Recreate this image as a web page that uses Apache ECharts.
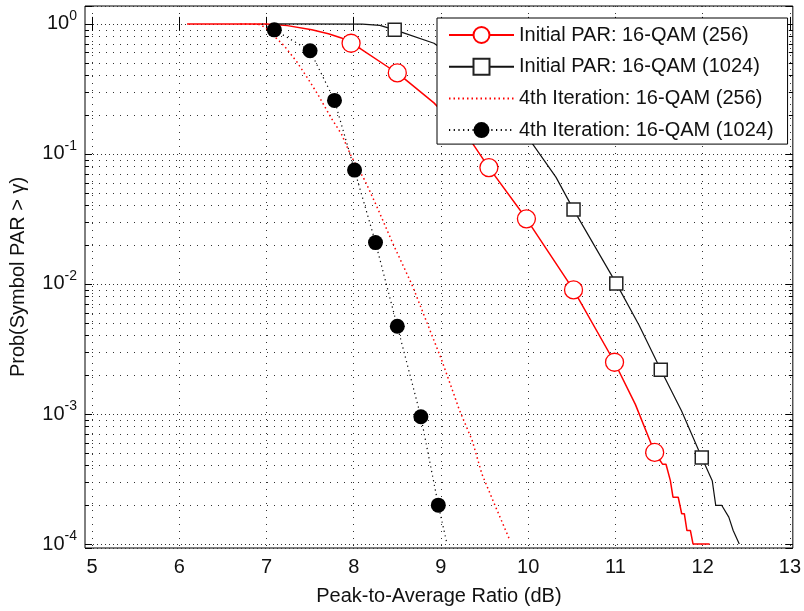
<!DOCTYPE html>
<html>
<head>
<meta charset="utf-8">
<script src="https://cdn.jsdelivr.net/npm/echarts@6/dist/echarts.min.js"></script>
<style>
  html, body { margin: 0; padding: 0; background: #fff; }
  #chart { width: 804px; height: 611px; }
</style>
</head>
<body>
<div id="chart"></div>
<script>
// axis ranges (box is a bit wider than the ticks)
const xMin = 4.92, xMax = 13.034;
const yMin = 0.932e-4, yMax = 1.373;
const xTicks = [5, 6, 7, 8, 9, 10, 11, 12, 13];
const yMinor = [2e-4, 3e-4, 4e-4, 5e-4, 6e-4, 7e-4, 8e-4, 9e-4,
                2e-3, 3e-3, 4e-3, 5e-3, 6e-3, 7e-3, 8e-3, 9e-3,
                2e-2, 3e-2, 4e-2, 5e-2, 6e-2, 7e-2, 8e-2, 9e-2,
                0.2, 0.3, 0.4, 0.5, 0.6, 0.7, 0.8, 0.9];

const names = ['Initial PAR: 16-QAM (256)', 'Initial PAR: 16-QAM (1024)',
               '4th Iteration: 16-QAM (256)', '4th Iteration: 16-QAM (1024)'];

// curves [x dB, probability]
const initial256 = [[6.09,1],[7.0,1],[7.24,0.97],[7.52,0.90],[7.71,0.84],[7.86,0.78],[7.97,0.71],
  [8.08,0.644],[8.41,0.458],[8.50,0.42],[8.92,0.247],[9.36,0.121],[9.55,0.0785],[9.98,0.0317],
  [10.52,0.0090],[10.99,0.0025],[11.23,0.00118],[11.45,0.000506],[11.54,0.000411],[11.58,0.000411],
  [11.63,0.000307],[11.66,0.000229],[11.72,0.000229],[11.76,0.000171],[11.79,0.000171],[11.82,0.000127],
  [11.86,0.000127],[11.89,0.0001],[12.08,0.0001]];
const initial256Marks = [7.97, 8.50, 9.55, 9.98, 10.52, 10.99, 11.45];

const initial1024 = [[7.05,1],[8.1,0.995],[8.3,0.975],[8.47,0.90],[8.58,0.85],[8.92,0.71],[9.5,0.38],
  [10.04,0.122],[10.32,0.066],[10.52,0.0373],[11.01,0.0101],[11.27,0.00484],[11.52,0.00219],
  [11.76,0.00105],[11.99,0.000463],[12.11,0.000307],[12.15,0.000198],[12.22,0.000198],[12.30,0.000161],
  [12.35,0.000127],[12.42,0.0001]];
const initial1024Marks = [8.47, 10.52, 11.01, 11.52, 11.99];

const iter256 = [[6.7,1],[6.93,0.99],[7.02,0.90],[7.10,0.79],[7.20,0.683],[7.35,0.509],[7.47,0.384],
  [7.59,0.286],[7.74,0.190],[7.86,0.142],[7.97,0.0966],[8.13,0.0622],[8.26,0.0401],[8.45,0.0204],
  [8.67,0.0098],[8.85,0.00484],[9.00,0.00269],[9.15,0.00141],[9.21,0.00108],[9.36,0.000621],
  [9.47,0.000345],[9.62,0.000198],[9.79,0.000107]];

const iter1024 = [[6.95,1],[7.09,0.90],[7.50,0.621],[7.78,0.258],[8.01,0.0751],[8.25,0.0208],
  [8.50,0.00473],[8.77,0.000953],[8.97,0.000199],[9.07,0.0001]];
const iter1024Marks = [7.09, 7.50, 7.78, 8.01, 8.25, 8.50, 8.77, 8.97];

const FONT = 'Liberation Sans';

function withMarks(pts, marks) {
  return pts.map(p => marks.indexOf(p[0]) >= 0 ? { value: p } : { value: p, symbol: 'none' });
}

const log10 = v => Math.log10(v);
const minorLog = yMinor.map(log10);

const chart = echarts.init(document.getElementById('chart'), null, { renderer: 'canvas' });
chart.setOption({
  animation: false,
  backgroundColor: '#fff',
  grid: { left: 85, right: 6, top: 6, bottom: 60, show: true, borderColor: '#000', borderWidth: 1, backgroundColor: '#fff' },
  legend: {
    // the dotted-only entry has no marker
    data: names.map((n, i) => i === 2 ? { name: n, itemStyle: { opacity: 0 } } : n),
    orient: 'vertical', left: 437, top: 18,
    itemWidth: 65, itemHeight: 20, itemGap: 11.7,
    padding: [7, 14, 4, 11],
    backgroundColor: '#fff', borderColor: '#000', borderWidth: 1, borderRadius: 0,
    selectedMode: false,
    textStyle: { fontFamily: FONT, fontSize: 20, color: '#111' }
  },
  xAxis: [{
    type: 'value', min: xMin, max: xMax, position: 'bottom', splitNumber: 8,
    name: 'Peak-to-Average Ratio (dB)', nameLocation: 'middle', nameGap: 38,
    nameTextStyle: { fontFamily: FONT, fontSize: 20, color: '#111' },
    axisLine: { show: false },
    axisTick: { inside: true, length: 7, customValues: xTicks, lineStyle: { color: '#000' } },
    axisLabel: { customValues: xTicks, fontFamily: FONT, fontSize: 20, color: '#111', margin: 9 },
    splitLine: { show: true, lineStyle: { color: '#333', width: 1, type: [1, 6] } }
  }, {
    type: 'value', min: xMin, max: xMax, position: 'top', splitNumber: 8,
    axisLine: { show: false },
    axisTick: { inside: true, length: 7, customValues: xTicks, lineStyle: { color: '#000' } },
    axisLabel: { show: false },
    splitLine: { show: false }
  }],
  yAxis: [{
    type: 'log', min: yMin, max: yMax, position: 'left',
    name: 'Prob(Symbol PAR > γ)', nameLocation: 'middle', nameGap: 57,
    nameTextStyle: { fontFamily: FONT, fontSize: 20, color: '#111' },
    axisLine: { show: false },
    axisTick: { inside: true, length: 7, lineStyle: { color: '#000' } },
    axisLabel: {
      margin: 8, color: '#111',
      formatter: v => {
        const e = Math.log10(v);
        if (Math.abs(e - Math.round(e)) > 1e-6) return '';
        return '{b|10}{e|' + Math.round(e) + '}';
      },
      rich: {
        b: { fontFamily: FONT, fontSize: 20, color: '#111' },
        e: { fontFamily: FONT, fontSize: 14, color: '#111', padding: [0, 0, 16, 0] }
      }
    },
    splitLine: { show: true, lineStyle: { color: '#333', width: 1, type: [1, 3] } }
  }, {
    type: 'value', min: log10(yMin), max: log10(yMax), position: 'left',
    axisLine: { show: false },
    axisTick: { inside: true, length: 4, customValues: minorLog, lineStyle: { color: '#000' } },
    axisLabel: { show: false },
    splitLine: { show: true, lineStyle: { color: '#333', width: 1, type: [1, 6] } }
  }, {
    type: 'log', min: yMin, max: yMax, position: 'right',
    axisLine: { show: false },
    axisTick: { inside: true, length: 7, lineStyle: { color: '#000' } },
    axisLabel: { show: false },
    splitLine: { show: false }
  }, {
    type: 'value', min: log10(yMin), max: log10(yMax), position: 'right',
    axisLine: { show: false },
    axisTick: { inside: true, length: 4, customValues: minorLog, lineStyle: { color: '#000' } },
    axisLabel: { show: false },
    splitLine: { show: false }
  }],
  series: [{
    name: names[0], type: 'line', xAxisIndex: 0, yAxisIndex: 0,
    data: withMarks(initial256, initial256Marks),
    symbol: 'circle', symbolSize: 18,
    itemStyle: { color: '#fff', borderColor: '#ff0000', borderWidth: 1.3 },
    lineStyle: { color: '#ff0000', width: 1.5 }
  }, {
    name: names[1], type: 'line', xAxisIndex: 0, yAxisIndex: 0,
    data: withMarks(initial1024, initial1024Marks),
    symbol: 'rect', symbolSize: 13,
    itemStyle: { color: '#fff', borderColor: '#222', borderWidth: 1.5 },
    lineStyle: { color: '#111', width: 1.2 }
  }, {
    name: names[2], type: 'line', xAxisIndex: 0, yAxisIndex: 0,
    data: iter256, symbol: 'none',
    itemStyle: { color: '#ff0000' },
    lineStyle: { color: '#ff0000', width: 1.5, type: [1.5, 3] }
  }, {
    name: names[3], type: 'line', xAxisIndex: 0, yAxisIndex: 0,
    data: withMarks(iter1024, iter1024Marks),
    symbol: 'circle', symbolSize: 15,
    itemStyle: { color: '#000' },
    lineStyle: { color: '#000', width: 1.2, type: [1.2, 3.5] }
  }]
});
</script>
</body>
</html>
